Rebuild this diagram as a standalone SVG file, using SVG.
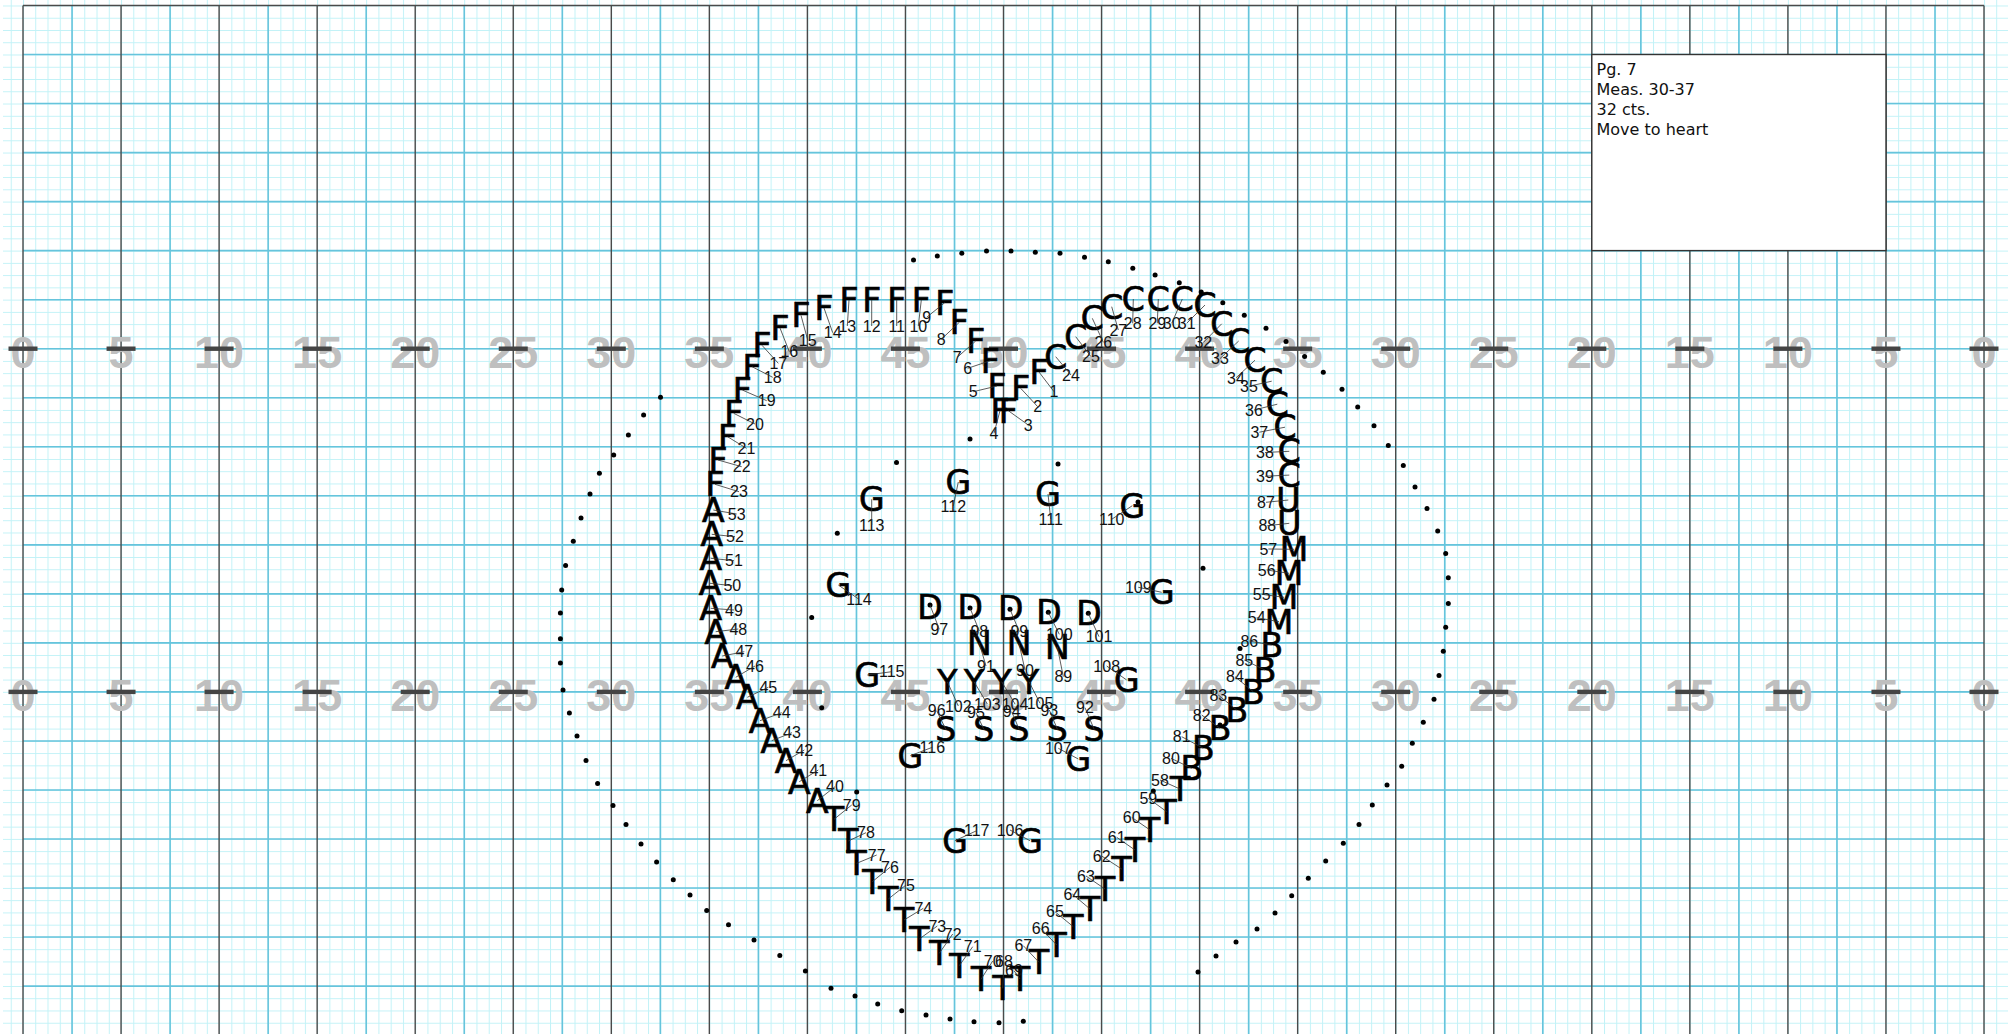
<svg xmlns="http://www.w3.org/2000/svg" width="2011" height="1034" viewBox="0 0 2011 1034">
<defs>
<pattern id="fine" x="23" y="5.5" width="12.256" height="12.256" patternUnits="userSpaceOnUse"><path d="M0.5 0V12.256M0 0.5H12.256" stroke="#c2f2f7" stroke-width="1" fill="none"/></pattern>
</defs>
<style>
.blue{stroke:#66c4dc;stroke-width:1.6;fill:none}
.dark{stroke:#4a4a4a;stroke-width:1.4;fill:none}
.yl{font-family:"Liberation Sans",Arial,sans-serif;font-weight:bold;font-size:45px;fill:#bfbfbf;text-anchor:middle}
.tk{fill:#444}
.L{font-family:"DejaVu Sans",sans-serif;font-size:33px;fill:#000;stroke:#000;stroke-width:0.7;text-anchor:middle}
.n{font-family:"Liberation Sans",Arial,sans-serif;font-size:16px;fill:#111;text-anchor:middle}
.ld{stroke:#333;stroke-width:0.8}
.dt{fill:#000}
.bt{font-family:"DejaVu Sans",sans-serif;font-size:16px;fill:#111}
</style>
<rect width="2011" height="1034" fill="#fff"/>
<g id="grid">
<rect x="3" y="0" width="2005" height="1034" fill="url(#fine)"/>
<path class="blue" d="M72.03 5.5V1034M170.08 5.5V1034M268.13 5.5V1034M366.18 5.5V1034M464.23 5.5V1034M562.28 5.5V1034M660.33 5.5V1034M758.38 5.5V1034M856.43 5.5V1034M954.48 5.5V1034M1052.53 5.5V1034M1150.58 5.5V1034M1248.63 5.5V1034M1346.68 5.5V1034M1444.73 5.5V1034M1542.78 5.5V1034M1640.83 5.5V1034M1738.88 5.5V1034M1836.93 5.5V1034M1934.98 5.5V1034M23 54.53H1984M23 103.56H1984M23 152.59H1984M23 201.62H1984M23 250.65H1984M23 299.68H1984M23 348.71H1984M23 397.74H1984M23 446.77H1984M23 495.8H1984M23 544.83H1984M23 593.86H1984M23 642.89H1984M23 691.92H1984M23 740.95H1984M23 789.98H1984M23 839.01H1984M23 888.04H1984M23 937.07H1984M23 986.1H1984"/>
<path class="dark" d="M23 5.5H1984M23 5.5V1034M121.05 5.5V1034M219.1 5.5V1034M317.15 5.5V1034M415.2 5.5V1034M513.25 5.5V1034M611.3 5.5V1034M709.35 5.5V1034M807.4 5.5V1034M905.45 5.5V1034M1003.5 5.5V1034M1101.55 5.5V1034M1199.6 5.5V1034M1297.65 5.5V1034M1395.7 5.5V1034M1493.75 5.5V1034M1591.8 5.5V1034M1689.85 5.5V1034M1787.9 5.5V1034M1885.95 5.5V1034M1984 5.5V1034"/>
</g>
<g id="yardlabels">
<text class="yl" x="23" y="367.5">0</text><text class="yl" x="121.05" y="367.5">5</text><text class="yl" x="219.1" y="367.5">10</text><text class="yl" x="317.15" y="367.5">15</text><text class="yl" x="415.2" y="367.5">20</text><text class="yl" x="513.25" y="367.5">25</text><text class="yl" x="611.3" y="367.5">30</text><text class="yl" x="709.35" y="367.5">35</text><text class="yl" x="807.4" y="367.5">40</text><text class="yl" x="905.45" y="367.5">45</text><text class="yl" x="1003.5" y="367.5">50</text><text class="yl" x="1101.55" y="367.5">45</text><text class="yl" x="1199.6" y="367.5">40</text><text class="yl" x="1297.65" y="367.5">35</text><text class="yl" x="1395.7" y="367.5">30</text><text class="yl" x="1493.75" y="367.5">25</text><text class="yl" x="1591.8" y="367.5">20</text><text class="yl" x="1689.85" y="367.5">15</text><text class="yl" x="1787.9" y="367.5">10</text><text class="yl" x="1885.95" y="367.5">5</text><text class="yl" x="1984" y="367.5">0</text>
<text class="yl" x="23" y="710.7">0</text><text class="yl" x="121.05" y="710.7">5</text><text class="yl" x="219.1" y="710.7">10</text><text class="yl" x="317.15" y="710.7">15</text><text class="yl" x="415.2" y="710.7">20</text><text class="yl" x="513.25" y="710.7">25</text><text class="yl" x="611.3" y="710.7">30</text><text class="yl" x="709.35" y="710.7">35</text><text class="yl" x="807.4" y="710.7">40</text><text class="yl" x="905.45" y="710.7">45</text><text class="yl" x="1003.5" y="710.7">50</text><text class="yl" x="1101.55" y="710.7">45</text><text class="yl" x="1199.6" y="710.7">40</text><text class="yl" x="1297.65" y="710.7">35</text><text class="yl" x="1395.7" y="710.7">30</text><text class="yl" x="1493.75" y="710.7">25</text><text class="yl" x="1591.8" y="710.7">20</text><text class="yl" x="1689.85" y="710.7">15</text><text class="yl" x="1787.9" y="710.7">10</text><text class="yl" x="1885.95" y="710.7">5</text><text class="yl" x="1984" y="710.7">0</text>
</g>
<g id="ticks" class="tk">
<rect x="8.5" y="346.5" width="29" height="4.4"/><rect x="106.55" y="346.5" width="29" height="4.4"/><rect x="204.6" y="346.5" width="29" height="4.4"/><rect x="302.65" y="346.5" width="29" height="4.4"/><rect x="400.7" y="346.5" width="29" height="4.4"/><rect x="498.75" y="346.5" width="29" height="4.4"/><rect x="596.8" y="346.5" width="29" height="4.4"/><rect x="694.85" y="346.5" width="29" height="4.4"/><rect x="792.9" y="346.5" width="29" height="4.4"/><rect x="890.95" y="346.5" width="29" height="4.4"/><rect x="989" y="346.5" width="29" height="4.4"/><rect x="1087.05" y="346.5" width="29" height="4.4"/><rect x="1185.1" y="346.5" width="29" height="4.4"/><rect x="1283.15" y="346.5" width="29" height="4.4"/><rect x="1381.2" y="346.5" width="29" height="4.4"/><rect x="1479.25" y="346.5" width="29" height="4.4"/><rect x="1577.3" y="346.5" width="29" height="4.4"/><rect x="1675.35" y="346.5" width="29" height="4.4"/><rect x="1773.4" y="346.5" width="29" height="4.4"/><rect x="1871.45" y="346.5" width="29" height="4.4"/><rect x="1969.5" y="346.5" width="29" height="4.4"/>
<rect x="8.5" y="689.7" width="29" height="4.4"/><rect x="106.55" y="689.7" width="29" height="4.4"/><rect x="204.6" y="689.7" width="29" height="4.4"/><rect x="302.65" y="689.7" width="29" height="4.4"/><rect x="400.7" y="689.7" width="29" height="4.4"/><rect x="498.75" y="689.7" width="29" height="4.4"/><rect x="596.8" y="689.7" width="29" height="4.4"/><rect x="694.85" y="689.7" width="29" height="4.4"/><rect x="792.9" y="689.7" width="29" height="4.4"/><rect x="890.95" y="689.7" width="29" height="4.4"/><rect x="989" y="689.7" width="29" height="4.4"/><rect x="1087.05" y="689.7" width="29" height="4.4"/><rect x="1185.1" y="689.7" width="29" height="4.4"/><rect x="1283.15" y="689.7" width="29" height="4.4"/><rect x="1381.2" y="689.7" width="29" height="4.4"/><rect x="1479.25" y="689.7" width="29" height="4.4"/><rect x="1577.3" y="689.7" width="29" height="4.4"/><rect x="1675.35" y="689.7" width="29" height="4.4"/><rect x="1773.4" y="689.7" width="29" height="4.4"/><rect x="1871.45" y="689.7" width="29" height="4.4"/><rect x="1969.5" y="689.7" width="29" height="4.4"/>
</g>
<g id="infobox">
<rect x="1591.8" y="54.5" width="294.2" height="196.1" fill="#fff" stroke="#333" stroke-width="1.4"/>
<text class="bt" x="1596.5" y="75">Pg. 7</text>
<text class="bt" x="1596.5" y="95">Meas. 30-37</text>
<text class="bt" x="1596.5" y="115">32 cts.</text>
<text class="bt" x="1596.5" y="135">Move to heart</text>
</g>
<g id="dots" class="dt">
<circle cx="913.5" cy="260" r="2.5"/><circle cx="937.3" cy="256" r="2.5"/><circle cx="961.8" cy="253.3" r="2.5"/><circle cx="986.5" cy="251" r="2.5"/><circle cx="1011" cy="251" r="2.5"/><circle cx="1035.3" cy="252.2" r="2.5"/><circle cx="1060" cy="253.3" r="2.5"/><circle cx="1084.5" cy="257.3" r="2.5"/><circle cx="1108.3" cy="261.7" r="2.5"/><circle cx="1132.8" cy="268.3" r="2.5"/><circle cx="1155.1" cy="275" r="2.5"/><circle cx="1179.3" cy="282.7" r="2.5"/><circle cx="1201.2" cy="292" r="2.5"/><circle cx="1222.8" cy="302.8" r="2.5"/><circle cx="1244.3" cy="315.2" r="2.5"/><circle cx="1266" cy="328.2" r="2.5"/><circle cx="1286" cy="341.5" r="2.5"/><circle cx="1304.6" cy="356.5" r="2.5"/><circle cx="1323.3" cy="372.2" r="2.5"/><circle cx="1342" cy="389.3" r="2.5"/><circle cx="1357.7" cy="406.9" r="2.5"/><circle cx="1374" cy="425.7" r="2.5"/><circle cx="1388.3" cy="445.6" r="2.5"/><circle cx="1403.3" cy="465.5" r="2.5"/><circle cx="1415" cy="487" r="2.5"/><circle cx="1427" cy="508.4" r="2.5"/><circle cx="1437.7" cy="531" r="2.5"/><circle cx="1445.7" cy="553.6" r="2.5"/><circle cx="1448.3" cy="577.8" r="2.5"/><circle cx="1448.3" cy="603.4" r="2.5"/><circle cx="1445.7" cy="627.2" r="2.5"/><circle cx="1443.3" cy="651.3" r="2.5"/><circle cx="1439" cy="675.5" r="2.5"/><circle cx="1434" cy="699.2" r="2.5"/><circle cx="1423.3" cy="722.2" r="2.5"/><circle cx="1412.3" cy="743.3" r="2.5"/><circle cx="1401.7" cy="766.3" r="2.5"/><circle cx="1387" cy="785" r="2.5"/><circle cx="1372.3" cy="805" r="2.5"/><circle cx="1359" cy="824.5" r="2.5"/><circle cx="1343.3" cy="843.3" r="2.5"/><circle cx="1325.7" cy="860.9" r="2.5"/><circle cx="1308.3" cy="878.2" r="2.5"/><circle cx="1291.7" cy="895.8" r="2.5"/><circle cx="1275" cy="913" r="2.5"/><circle cx="1257" cy="929" r="2.5"/><circle cx="1236" cy="942" r="2.5"/><circle cx="1216" cy="956" r="2.5"/><circle cx="1198" cy="972" r="2.5"/>
<circle cx="660.5" cy="397.3" r="2.5"/><circle cx="643.6" cy="415" r="2.5"/><circle cx="628.4" cy="435" r="2.5"/><circle cx="613.7" cy="455" r="2.5"/><circle cx="599.4" cy="473.3" r="2.5"/><circle cx="590" cy="494" r="2.5"/><circle cx="581" cy="518" r="2.5"/><circle cx="573.3" cy="541.2" r="2.5"/><circle cx="565.6" cy="565.6" r="2.5"/><circle cx="561.7" cy="590" r="2.5"/><circle cx="560.4" cy="613" r="2.5"/><circle cx="560.4" cy="638.7" r="2.5"/><circle cx="560.4" cy="663" r="2.5"/><circle cx="563" cy="690" r="2.5"/><circle cx="569.4" cy="713" r="2.5"/><circle cx="577" cy="736" r="2.5"/><circle cx="586" cy="760.5" r="2.5"/><circle cx="597.6" cy="783.6" r="2.5"/><circle cx="613" cy="805.4" r="2.5"/><circle cx="626" cy="824.6" r="2.5"/><circle cx="641" cy="844" r="2.5"/><circle cx="656.6" cy="862" r="2.5"/><circle cx="673.3" cy="879.8" r="2.5"/><circle cx="690" cy="895" r="2.5"/><circle cx="706.7" cy="910.6" r="2.5"/><circle cx="728.5" cy="924.7" r="2.5"/><circle cx="754" cy="940" r="2.5"/><circle cx="779.8" cy="955.5" r="2.5"/><circle cx="805.4" cy="970.9" r="2.5"/><circle cx="831" cy="988.3" r="2.5"/><circle cx="855" cy="996" r="2.5"/><circle cx="877.7" cy="1004" r="2.5"/><circle cx="901.7" cy="1010.7" r="2.5"/><circle cx="926" cy="1015" r="2.5"/><circle cx="950" cy="1019" r="2.5"/><circle cx="974" cy="1021.7" r="2.5"/><circle cx="999" cy="1022.7" r="2.5"/><circle cx="1023.3" cy="1021.3" r="2.5"/>
<circle cx="970" cy="439" r="2.5"/><circle cx="896.5" cy="462.5" r="2.5"/><circle cx="1058" cy="464" r="2.5"/><circle cx="1138" cy="502" r="2.5"/><circle cx="837.3" cy="533.3" r="2.5"/><circle cx="811.7" cy="617.5" r="2.5"/><circle cx="821.7" cy="707.7" r="2.5"/><circle cx="856.7" cy="792" r="2.5"/><circle cx="1203" cy="568.3" r="2.5"/><circle cx="1240" cy="648.5" r="2.5"/><circle cx="1220" cy="725" r="2.5"/><circle cx="1153.3" cy="791" r="2.5"/>
<circle cx="930" cy="605" r="2.5"/><circle cx="970" cy="608" r="2.5"/><circle cx="1010" cy="609.3" r="2.5"/><circle cx="1048.3" cy="612.3" r="2.5"/><circle cx="1088.3" cy="613.3" r="2.5"/>
</g>
<g id="performers">
<g id="p1"><text class="L" x="1039" y="384">F</text><text class="n" x="1054" y="397.4">1</text></g>
<g id="p2"><text class="L" x="1020.7" y="400.3">F</text><text class="n" x="1037.7" y="412.4">2</text></g>
<g id="p3"><text class="L" x="1008.3" y="422.7">F</text><text class="n" x="1028.3" y="430.7">3</text></g>
<g id="p4"><text class="L" x="1000" y="422.7">F</text><text class="n" x="994" y="439">4</text></g>
<g id="p5"><text class="L" x="997" y="398">F</text><text class="n" x="973.3" y="397.4">5</text></g>
<g id="p6"><text class="L" x="990.3" y="372.7">F</text><text class="n" x="967.7" y="374">6</text></g>
<g id="p7"><text class="L" x="975.7" y="353">F</text><text class="n" x="957.3" y="363">7</text></g>
<g id="p8"><text class="L" x="959.3" y="334.3">F</text><text class="n" x="941.3" y="345">8</text></g>
<g id="p9"><text class="L" x="944.7" y="314.7">F</text><text class="n" x="926.7" y="323">9</text></g>
<g id="p10"><text class="L" x="921.3" y="312">F</text><text class="n" x="918.3" y="331.7">10</text></g>
<g id="p11"><text class="L" x="896.7" y="312">F</text><text class="n" x="896.7" y="331.7">11</text></g>
<g id="p12"><text class="L" x="871.7" y="312">F</text><text class="n" x="871.7" y="331.7">12</text></g>
<g id="p13"><text class="L" x="849" y="312">F</text><text class="n" x="847.3" y="331.7">13</text></g>
<g id="p14"><text class="L" x="824" y="320">F</text><text class="n" x="832.7" y="338.4">14</text></g>
<g id="p15"><text class="L" x="801" y="327.3">F</text><text class="n" x="807.7" y="345.7">15</text></g>
<g id="p16"><text class="L" x="780" y="340">F</text><text class="n" x="789.3" y="357.4">16</text></g>
<g id="p17"><text class="L" x="762" y="357.3">F</text><text class="n" x="778.3" y="369">17</text></g>
<g id="p18"><text class="L" x="752" y="378.7">F</text><text class="n" x="772.7" y="383">18</text></g>
<g id="p19"><text class="L" x="742.3" y="402">F</text><text class="n" x="766.7" y="406.4">19</text></g>
<g id="p20"><text class="L" x="733.7" y="425.3">F</text><text class="n" x="755" y="429.7">20</text></g>
<g id="p21"><text class="L" x="727.5" y="448.7">F</text><text class="n" x="746.5" y="454">21</text></g>
<g id="p22"><text class="L" x="718" y="472">F</text><text class="n" x="741.7" y="472.4">22</text></g>
<g id="p23"><text class="L" x="715" y="496.3">F</text><text class="n" x="739" y="497.4">23</text></g>
<g id="p24"><text class="L" x="1055.7" y="368.7">C</text><text class="n" x="1071" y="380.7">24</text></g>
<g id="p25"><text class="L" x="1075.7" y="348.7">C</text><text class="n" x="1091" y="362.4">25</text></g>
<g id="p26"><text class="L" x="1092.3" y="330.3">C</text><text class="n" x="1103.3" y="348">26</text></g>
<g id="p27"><text class="L" x="1111.7" y="318.7">C</text><text class="n" x="1118.3" y="335.7">27</text></g>
<g id="p28"><text class="L" x="1133.3" y="311">C</text><text class="n" x="1132.7" y="329">28</text></g>
<g id="p29"><text class="L" x="1158.3" y="311">C</text><text class="n" x="1157.3" y="329">29</text></g>
<g id="p30"><text class="L" x="1182.3" y="311">C</text><text class="n" x="1171.7" y="329">30</text></g>
<g id="p31"><text class="L" x="1205" y="317">C</text><text class="n" x="1186.7" y="329">31</text></g>
<g id="p32"><text class="L" x="1221.7" y="335.8">C</text><text class="n" x="1203.3" y="348.2">32</text></g>
<g id="p33"><text class="L" x="1238.7" y="353">C</text><text class="n" x="1220" y="364.3">33</text></g>
<g id="p34"><text class="L" x="1255" y="372.2">C</text><text class="n" x="1236" y="383.5">34</text></g>
<g id="p35"><text class="L" x="1271.7" y="393.2">C</text><text class="n" x="1249" y="391.9">35</text></g>
<g id="p36"><text class="L" x="1277.3" y="416.2">C</text><text class="n" x="1254" y="415.7">36</text></g>
<g id="p37"><text class="L" x="1285" y="439.2">C</text><text class="n" x="1259.3" y="437.9">37</text></g>
<g id="p38"><text class="L" x="1289.3" y="463.3">C</text><text class="n" x="1265" y="458.2">38</text></g>
<g id="p39"><text class="L" x="1289.3" y="487.1">C</text><text class="n" x="1265" y="481.9">39</text></g>
<g id="p40"><text class="L" x="817.3" y="812.7">A</text><text class="n" x="835" y="792.4">40</text></g>
<g id="p41"><text class="L" x="799.3" y="793.7">A</text><text class="n" x="818.3" y="775.7">41</text></g>
<g id="p42"><text class="L" x="786" y="772.7">A</text><text class="n" x="804.3" y="755.7">42</text></g>
<g id="p43"><text class="L" x="771.7" y="752.7">A</text><text class="n" x="792" y="738.4">43</text></g>
<g id="p44"><text class="L" x="760" y="732.7">A</text><text class="n" x="781.7" y="718.4">44</text></g>
<g id="p45"><text class="L" x="747.3" y="709.3">A</text><text class="n" x="768.3" y="693">45</text></g>
<g id="p46"><text class="L" x="735.7" y="689.3">A</text><text class="n" x="755" y="671.7">46</text></g>
<g id="p47"><text class="L" x="722.3" y="668">A</text><text class="n" x="744.3" y="657.4">47</text></g>
<g id="p48"><text class="L" x="715.7" y="643.7">A</text><text class="n" x="738.3" y="634.7">48</text></g>
<g id="p49"><text class="L" x="710.7" y="620.3">A</text><text class="n" x="734" y="615.7">49</text></g>
<g id="p50"><text class="L" x="710" y="595.3">A</text><text class="n" x="732.3" y="591.4">50</text></g>
<g id="p51"><text class="L" x="710.7" y="570.3">A</text><text class="n" x="734" y="566.4">51</text></g>
<g id="p52"><text class="L" x="711.7" y="546.3">A</text><text class="n" x="735" y="542.4">52</text></g>
<g id="p53"><text class="L" x="713.3" y="522">A</text><text class="n" x="736.7" y="519.7">53</text></g>
<g id="p54"><text class="L" x="1279" y="633.7">M</text><text class="n" x="1256.7" y="623.4">54</text></g>
<g id="p55"><text class="L" x="1284" y="609.3">M</text><text class="n" x="1261.7" y="600">55</text></g>
<g id="p56"><text class="L" x="1289" y="585.3">M</text><text class="n" x="1266.7" y="575.7">56</text></g>
<g id="p57"><text class="L" x="1294" y="561.3">M</text><text class="n" x="1268.3" y="554.7">57</text></g>
<g id="p58"><text class="L" x="1180" y="801">T</text><text class="n" x="1160" y="785.7">58</text></g>
<g id="p59"><text class="L" x="1166.7" y="823.7">T</text><text class="n" x="1148.3" y="804">59</text></g>
<g id="p60"><text class="L" x="1150" y="842">T</text><text class="n" x="1131.7" y="823">60</text></g>
<g id="p61"><text class="L" x="1135" y="862">T</text><text class="n" x="1116.7" y="843">61</text></g>
<g id="p62"><text class="L" x="1121.7" y="881">T</text><text class="n" x="1101.7" y="861.7">62</text></g>
<g id="p63"><text class="L" x="1105" y="901">T</text><text class="n" x="1086" y="881.7">63</text></g>
<g id="p64"><text class="L" x="1090" y="921">T</text><text class="n" x="1072.3" y="899.7">64</text></g>
<g id="p65"><text class="L" x="1073.3" y="938.7">T</text><text class="n" x="1055" y="917.4">65</text></g>
<g id="p66"><text class="L" x="1056.7" y="957">T</text><text class="n" x="1040.7" y="934">66</text></g>
<g id="p67"><text class="L" x="1039" y="974.3">T</text><text class="n" x="1023.3" y="951.4">67</text></g>
<g id="p68"><text class="L" x="1002.7" y="1000.3">T</text><text class="n" x="1004" y="967.4">68</text></g>
<g id="p69"><text class="L" x="1020" y="991">T</text><text class="n" x="1014" y="976.4">69</text></g>
<g id="p70"><text class="L" x="981" y="991.3">T</text><text class="n" x="992.7" y="966.7">70</text></g>
<g id="p71"><text class="L" x="959.3" y="977.7">T</text><text class="n" x="972.7" y="952.4">71</text></g>
<g id="p72"><text class="L" x="939.3" y="965.3">T</text><text class="n" x="952.7" y="939.7">72</text></g>
<g id="p73"><text class="L" x="919.3" y="951">T</text><text class="n" x="937.3" y="931.7">73</text></g>
<g id="p74"><text class="L" x="904" y="932">T</text><text class="n" x="923.3" y="914">74</text></g>
<g id="p75"><text class="L" x="888.3" y="911">T</text><text class="n" x="906" y="890.7">75</text></g>
<g id="p76"><text class="L" x="872.3" y="893.7">T</text><text class="n" x="890" y="873">76</text></g>
<g id="p77"><text class="L" x="856.7" y="875.3">T</text><text class="n" x="876.7" y="860.7">77</text></g>
<g id="p78"><text class="L" x="848.3" y="853">T</text><text class="n" x="866" y="838.4">78</text></g>
<g id="p79"><text class="L" x="834" y="831.3">T</text><text class="n" x="851.7" y="810.7">79</text></g>
<g id="p80"><text class="L" x="1191.7" y="780.3">B</text><text class="n" x="1171" y="764">80</text></g>
<g id="p81"><text class="L" x="1203.3" y="760.3">B</text><text class="n" x="1181.7" y="742.4">81</text></g>
<g id="p82"><text class="L" x="1220" y="740.3">B</text><text class="n" x="1201.7" y="720.7">82</text></g>
<g id="p83"><text class="L" x="1236.7" y="722">B</text><text class="n" x="1218.3" y="700.7">83</text></g>
<g id="p84"><text class="L" x="1253.3" y="703.7">B</text><text class="n" x="1235" y="682.4">84</text></g>
<g id="p85"><text class="L" x="1265" y="682">B</text><text class="n" x="1244.3" y="665.7">85</text></g>
<g id="p86"><text class="L" x="1271.7" y="657">B</text><text class="n" x="1249.3" y="646.7">86</text></g>
<g id="p87"><text class="L" x="1288.3" y="512">U</text><text class="n" x="1266" y="508">87</text></g>
<g id="p88"><text class="L" x="1289.3" y="535.3">U</text><text class="n" x="1267.3" y="531.4">88</text></g>
<g id="p89"><text class="L" x="1057.3" y="658.7">N</text><text class="n" x="1063.3" y="682.4">89</text></g>
<g id="p90"><text class="L" x="1019" y="655.3">N</text><text class="n" x="1025" y="675.7">90</text></g>
<g id="p91"><text class="L" x="979.3" y="655.3">N</text><text class="n" x="986" y="671.7">91</text></g>
<g id="p92"><text class="L" x="1094" y="741">S</text><text class="n" x="1085" y="713.4">92</text></g>
<g id="p93"><text class="L" x="1057.3" y="741">S</text><text class="n" x="1049.3" y="715.7">93</text></g>
<g id="p94"><text class="L" x="1019" y="741">S</text><text class="n" x="1011.7" y="717.4">94</text></g>
<g id="p95"><text class="L" x="983.7" y="741">S</text><text class="n" x="976" y="718.4">95</text></g>
<g id="p96"><text class="L" x="945.7" y="741">S</text><text class="n" x="936.7" y="716.4">96</text></g>
<g id="p97"><text class="L" x="930" y="618.7">D</text><text class="n" x="939.3" y="635">97</text></g>
<g id="p98"><text class="L" x="970.3" y="618.7">D</text><text class="n" x="979.3" y="636.7">98</text></g>
<g id="p99"><text class="L" x="1010.7" y="620.3">D</text><text class="n" x="1019.3" y="637.4">99</text></g>
<g id="p100"><text class="L" x="1049" y="623.7">D</text><text class="n" x="1059.3" y="640">100</text></g>
<g id="p101"><text class="L" x="1089" y="625.3">D</text><text class="n" x="1099" y="642.4">101</text></g>
<g id="p102"><text class="L" x="947.3" y="693.7">Y</text><text class="n" x="958.3" y="711.7">102</text></g>
<g id="p103"><text class="L" x="974" y="693.7">Y</text><text class="n" x="987.3" y="709.7">103</text></g>
<g id="p104"><text class="L" x="1001.7" y="693.7">Y</text><text class="n" x="1015" y="709.7">104</text></g>
<g id="p105"><text class="L" x="1029" y="693.7">Y</text><text class="n" x="1040" y="709">105</text></g>
<g id="p106"><text class="L" x="1030" y="852.7">G</text><text class="n" x="1010" y="835.7">106</text></g>
<g id="p107"><text class="L" x="1078.3" y="771">G</text><text class="n" x="1058.3" y="754">107</text></g>
<g id="p108"><text class="L" x="1126.7" y="692">G</text><text class="n" x="1106.7" y="671.7">108</text></g>
<g id="p109"><text class="L" x="1161.7" y="604.3">G</text><text class="n" x="1138.3" y="593">109</text></g>
<g id="p110"><text class="L" x="1132.3" y="517.7">G</text><text class="n" x="1111.7" y="525">110</text></g>
<g id="p111"><text class="L" x="1048" y="506">G</text><text class="n" x="1050.7" y="524.7">111</text></g>
<g id="p112"><text class="L" x="958.3" y="494">G</text><text class="n" x="953.3" y="511.7">112</text></g>
<g id="p113"><text class="L" x="871.7" y="511.3">G</text><text class="n" x="871.7" y="530.7">113</text></g>
<g id="p114"><text class="L" x="838.3" y="597">G</text><text class="n" x="859" y="605">114</text></g>
<g id="p115"><text class="L" x="867.3" y="687">G</text><text class="n" x="891.7" y="677.4">115</text></g>
<g id="p116"><text class="L" x="910.3" y="767.7">G</text><text class="n" x="932.3" y="753">116</text></g>
<g id="p117"><text class="L" x="955" y="852.7">G</text><text class="n" x="976.7" y="836.4">117</text></g>
</g>
<g id="connectors" class="ld">
<line x1="1039" y1="372" x2="1054" y2="391.7"/><line x1="1020.7" y1="388.3" x2="1037.7" y2="406.7"/><line x1="1008.3" y1="410.7" x2="1028.3" y2="425"/><line x1="1000" y1="410.7" x2="994" y2="433.3"/><line x1="997" y1="386" x2="973.3" y2="391.7"/><line x1="990.3" y1="360.7" x2="967.7" y2="368.3"/><line x1="975.7" y1="341" x2="957.3" y2="357.3"/><line x1="959.3" y1="322.3" x2="941.3" y2="339.3"/><line x1="944.7" y1="302.7" x2="926.7" y2="317.3"/><line x1="921.3" y1="300" x2="918.3" y2="326"/><line x1="896.7" y1="300" x2="896.7" y2="326"/><line x1="871.7" y1="300" x2="871.7" y2="326"/><line x1="849" y1="300" x2="847.3" y2="326"/><line x1="824" y1="308" x2="832.7" y2="332.7"/><line x1="801" y1="315.3" x2="807.7" y2="340"/><line x1="780" y1="328" x2="789.3" y2="351.7"/><line x1="762" y1="345.3" x2="778.3" y2="363.3"/><line x1="752" y1="366.7" x2="772.7" y2="377.3"/><line x1="742.3" y1="390" x2="766.7" y2="400.7"/><line x1="733.7" y1="413.3" x2="755" y2="424"/><line x1="727.5" y1="436.7" x2="746.5" y2="448.3"/><line x1="718" y1="460" x2="741.7" y2="466.7"/><line x1="715" y1="484.3" x2="739" y2="491.7"/>
<line x1="1055.7" y1="356.7" x2="1071" y2="375"/><line x1="1075.7" y1="336.7" x2="1091" y2="356.7"/><line x1="1092.3" y1="318.3" x2="1103.3" y2="342.3"/><line x1="1111.7" y1="306.7" x2="1118.3" y2="330"/><line x1="1133.3" y1="299" x2="1132.7" y2="323.3"/><line x1="1158.3" y1="299" x2="1157.3" y2="323.3"/><line x1="1182.3" y1="299" x2="1171.7" y2="323.3"/><line x1="1205" y1="305" x2="1186.7" y2="323.3"/><line x1="1221.7" y1="323.8" x2="1203.3" y2="342.5"/><line x1="1238.7" y1="341" x2="1220" y2="358.6"/><line x1="1255" y1="360.2" x2="1236" y2="377.8"/><line x1="1271.7" y1="381.2" x2="1249" y2="386.2"/><line x1="1277.3" y1="404.2" x2="1254" y2="410"/><line x1="1285" y1="427.2" x2="1259.3" y2="432.2"/><line x1="1289.3" y1="451.3" x2="1265" y2="452.5"/><line x1="1289.3" y1="475.1" x2="1265" y2="476.2"/>
<line x1="817.3" y1="800.7" x2="835" y2="786.7"/><line x1="799.3" y1="781.7" x2="818.3" y2="770"/><line x1="786" y1="760.7" x2="804.3" y2="750"/><line x1="771.7" y1="740.7" x2="792" y2="732.7"/><line x1="760" y1="720.7" x2="781.7" y2="712.7"/><line x1="747.3" y1="697.3" x2="768.3" y2="687.3"/><line x1="735.7" y1="677.3" x2="755" y2="666"/><line x1="722.3" y1="656" x2="744.3" y2="651.7"/><line x1="715.7" y1="631.7" x2="738.3" y2="629"/><line x1="710.7" y1="608.3" x2="734" y2="610"/><line x1="710" y1="583.3" x2="732.3" y2="585.7"/><line x1="710.7" y1="558.3" x2="734" y2="560.7"/><line x1="711.7" y1="534.3" x2="735" y2="536.7"/><line x1="713.3" y1="510" x2="736.7" y2="514"/>
<line x1="1279" y1="621.7" x2="1256.7" y2="617.7"/><line x1="1284" y1="597.3" x2="1261.7" y2="594.3"/><line x1="1289" y1="573.3" x2="1266.7" y2="570"/><line x1="1294" y1="549.3" x2="1268.3" y2="549"/>
<line x1="1180" y1="789" x2="1160" y2="780"/><line x1="1166.7" y1="811.7" x2="1148.3" y2="798.3"/><line x1="1150" y1="830" x2="1131.7" y2="817.3"/><line x1="1135" y1="850" x2="1116.7" y2="837.3"/><line x1="1121.7" y1="869" x2="1101.7" y2="856"/><line x1="1105" y1="889" x2="1086" y2="876"/><line x1="1090" y1="909" x2="1072.3" y2="894"/><line x1="1073.3" y1="926.7" x2="1055" y2="911.7"/><line x1="1056.7" y1="945" x2="1040.7" y2="928.3"/><line x1="1039" y1="962.3" x2="1023.3" y2="945.7"/><line x1="1002.7" y1="988.3" x2="1004" y2="961.7"/><line x1="1020" y1="979" x2="1014" y2="970.7"/><line x1="981" y1="979.3" x2="992.7" y2="961"/><line x1="959.3" y1="965.7" x2="972.7" y2="946.7"/><line x1="939.3" y1="953.3" x2="952.7" y2="934"/><line x1="919.3" y1="939" x2="937.3" y2="926"/><line x1="904" y1="920" x2="923.3" y2="908.3"/><line x1="888.3" y1="899" x2="906" y2="885"/><line x1="872.3" y1="881.7" x2="890" y2="867.3"/><line x1="856.7" y1="863.3" x2="876.7" y2="855"/><line x1="848.3" y1="841" x2="866" y2="832.7"/><line x1="834" y1="819.3" x2="851.7" y2="805"/>
<line x1="1191.7" y1="768.3" x2="1171" y2="758.3"/><line x1="1203.3" y1="748.3" x2="1181.7" y2="736.7"/><line x1="1220" y1="728.3" x2="1201.7" y2="715"/><line x1="1236.7" y1="710" x2="1218.3" y2="695"/><line x1="1253.3" y1="691.7" x2="1235" y2="676.7"/><line x1="1265" y1="670" x2="1244.3" y2="660"/><line x1="1271.7" y1="645" x2="1249.3" y2="641"/><line x1="1288.3" y1="500" x2="1266" y2="502.3"/><line x1="1289.3" y1="523.3" x2="1267.3" y2="525.7"/>
<line x1="1057.3" y1="646.7" x2="1063.3" y2="676.7"/><line x1="1019" y1="643.3" x2="1025" y2="670"/><line x1="979.3" y1="643.3" x2="986" y2="666"/>
<line x1="1094" y1="729" x2="1085" y2="707.7"/><line x1="1057.3" y1="729" x2="1049.3" y2="710"/><line x1="1019" y1="729" x2="1011.7" y2="711.7"/><line x1="983.7" y1="729" x2="976" y2="712.7"/><line x1="945.7" y1="729" x2="936.7" y2="710.7"/>
<line x1="930" y1="605" x2="939.3" y2="629.3"/><line x1="970" y1="608" x2="979.3" y2="631"/><line x1="1010" y1="609.3" x2="1019.3" y2="631.7"/><line x1="1048.3" y1="612.3" x2="1059.3" y2="634.3"/><line x1="1088.3" y1="613.3" x2="1099" y2="636.7"/>
<line x1="947.3" y1="681.7" x2="958.3" y2="706"/><line x1="974" y1="681.7" x2="987.3" y2="704"/><line x1="1001.7" y1="681.7" x2="1015" y2="704"/><line x1="1029" y1="681.7" x2="1040" y2="703.3"/>
<line x1="1030" y1="840.7" x2="1010" y2="830"/><line x1="1078.3" y1="759" x2="1058.3" y2="748.3"/><line x1="1126.7" y1="680" x2="1106.7" y2="666"/><line x1="1161.7" y1="592.3" x2="1138.3" y2="587.3"/><line x1="1132.3" y1="505.7" x2="1111.7" y2="519.3"/><line x1="1048" y1="494" x2="1050.7" y2="519"/><line x1="958.3" y1="482" x2="953.3" y2="506"/><line x1="871.7" y1="499.3" x2="871.7" y2="525"/><line x1="838.3" y1="585" x2="859" y2="599.3"/><line x1="867.3" y1="675" x2="891.7" y2="671.7"/><line x1="910.3" y1="755.7" x2="932.3" y2="747.3"/><line x1="955" y1="840.7" x2="976.7" y2="830.7"/>
</g>
</svg>
